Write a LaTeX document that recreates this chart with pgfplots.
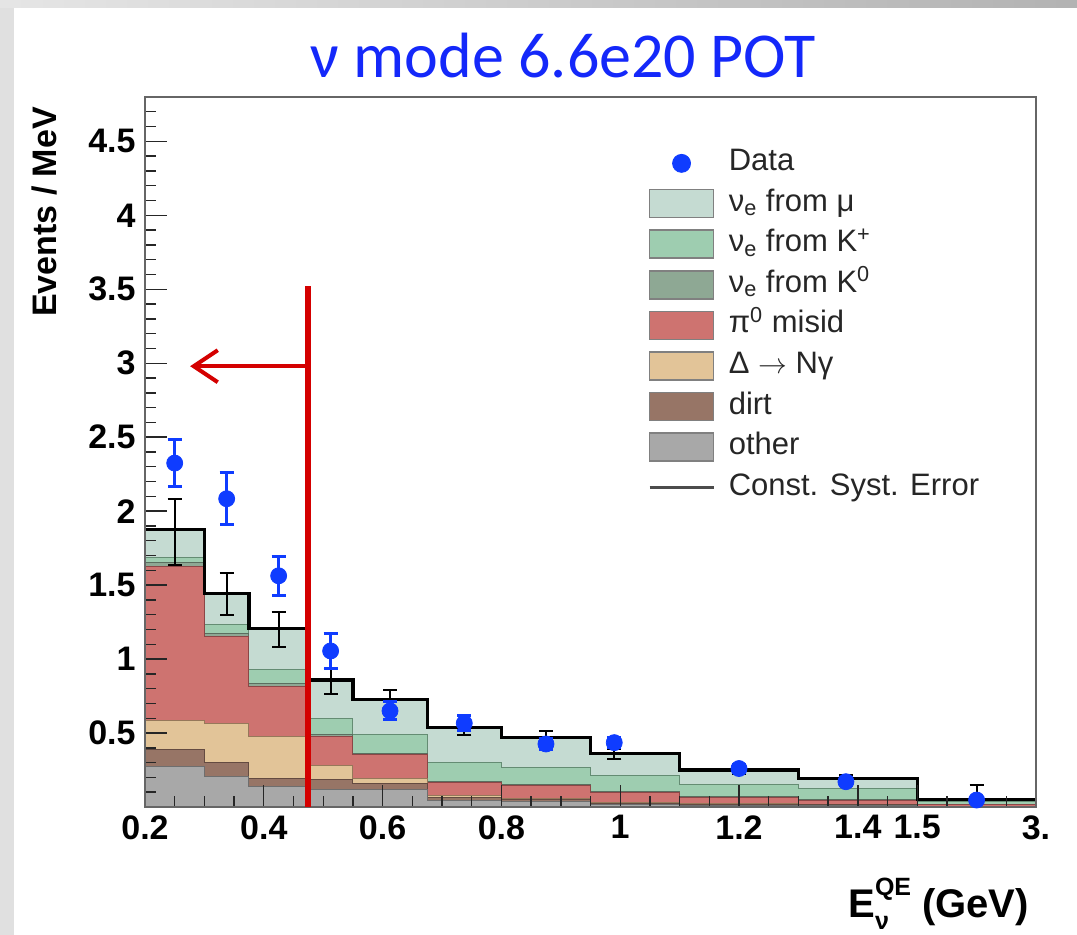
\documentclass[border=0pt]{standalone}
\usepackage{pgfplots}
\pgfplotsset{compat=1.18}
\usepackage{pgfplotstable}
\usepackage{fontspec}
\setmainfont{Liberation Sans}
\newfontfamily\titlefont{Carlito}
\usetikzlibrary{arrows.meta}

\definecolor{cmu}{RGB}{197,219,210}
\definecolor{dmu}{RGB}{120,142,132}
\definecolor{ckp}{RGB}{158,205,176}
\definecolor{dkp}{RGB}{100,140,115}
\definecolor{ckz}{RGB}{142,168,148}
\definecolor{dkz}{RGB}{90,110,95}
\definecolor{cpi}{RGB}{206,115,112}
\definecolor{dpi}{RGB}{140,70,70}
\definecolor{cdel}{RGB}{226,196,152}
\definecolor{ddel}{RGB}{150,120,90}
\definecolor{cdirt}{RGB}{151,117,102}
\definecolor{ddirt}{RGB}{100,75,65}
\definecolor{coth}{RGB}{168,168,168}
\definecolor{doth}{RGB}{110,110,110}
\definecolor{datablue}{RGB}{15,60,255}
\definecolor{titleblue}{RGB}{20,40,250}
\definecolor{redann}{RGB}{212,0,0}

\pgfplotstableread{
x     l1    l2    l3    l4    l5    l6    l7
0.2   0.273 0.39  0.587 1.625 1.65  1.69  1.874
0.3   0.205 0.30  0.566 1.152 1.175 1.231 1.441
0.375 0.14  0.194 0.476 0.813 0.836 0.927 1.208
0.475 0.12  0.183 0.28  0.476 0.49  0.599 0.859
0.55  0.115 0.16  0.193 0.352 0.363 0.487 0.724
0.675 0.045 0.065 0.08  0.165 0.175 0.30  0.54
0.8   0.035 0.05  0.06  0.145 0.15  0.265 0.47
0.95  0.018 0.025 0.03  0.10  0.104 0.216 0.36
1.1   0.012 0.018 0.022 0.065 0.07  0.149 0.25
1.3   0.01  0.014 0.017 0.045 0.05  0.125 0.195
1.5   0.003 0.004 0.006 0.015 0.02  0.035 0.05
1.7   0.003 0.004 0.006 0.015 0.02  0.035 0.05
}\hist

\pgfplotstableread{
x      y     e
0.25   2.325 0.16
0.3375 2.084 0.175
0.425  1.563 0.13
0.5125 1.055 0.12
0.6125 0.65  0.06
0.7375 0.566 0.05
0.875  0.426 0.04
0.99   0.435 0.035
1.2    0.26  0.03
1.38   0.171 0.025
1.6    0.047 0.02
}\data

\pgfplotstableread{
x      y     e
0.25   1.86  0.225
0.3375 1.44  0.14
0.425  1.20  0.12
0.5125 0.85  0.085
0.6125 0.72  0.07
0.7375 0.54  0.05
0.875  0.47  0.045
0.99   0.36  0.035
1.2    0.25  0.025
1.38   0.195 0.02
1.6    0.05  0.1
}\mcerr

\pgfplotsset{
  layer/.style={const plot, line width=0.5pt,
    legend image code/.code={\draw[##1, line width=0.8pt, draw=black!50] (0pt,-7pt) rectangle (32pt,7pt);}},
}

\begin{document}
\begin{tikzpicture}
\useasboundingbox (0,0) rectangle (538.5pt,467.5pt);
\fill[white] (0,0) rectangle (538.5pt,467.5pt);
\fill[black!12] (0,0) rectangle (7pt,467.5pt);
\shade[left color=black!10, right color=black!30] (0,463.5pt) rectangle (538.5pt,467.5pt);

\begin{axis}[
  at={(72.5pt,64pt)}, anchor=south west,
  scale only axis, width=445.5pt, height=355pt,
  xmin=0.2, xmax=1.7, ymin=0, ymax=4.8,
  axis on top,
  xtick={0.2,0.4,0.6,0.8,1.0,1.2,1.4,1.5,1.7},
  xticklabels={0.2,0.4,0.6,0.8,1,1.2,1.4,1.5,3.},
  minor xtick={0.25,0.3,0.35,0.45,0.5,0.55,0.65,0.7,0.75,0.85,0.9,0.95,1.05,1.1,1.15,1.25,1.3,1.35,1.45,1.55,1.65},
  ytick={0.5,1,1.5,2,2.5,3,3.5,4,4.5},
  yticklabels={0.5,1,1.5,2,2.5,3,3.5,4,4.5},
  minor ytick={0.1,0.2,...,4.7},
  tick align=inside, tick pos=left,
  major tick length=11pt, minor tick length=5.5pt,
  every tick/.append style={black!85, line width=0.7pt},
  axis line style={black!60, line width=1.2pt},
  tick label style={font=\bfseries\fontsize{17}{17}\selectfont, inner sep=0pt},
  xticklabel shift=4pt, yticklabel shift=4.5pt,
  legend style={at={(0.5645,0.9275)}, anchor=north west, draw=none, fill=none,
    inner sep=0pt, row sep=5.5pt, column sep=7pt,
    font=\fontsize{15.5}{15.5}\selectfont, text=black!85,
    cells={anchor=west},
    nodes={inner sep=0pt, text height=11pt, text depth=3.5pt}},
]
\addlegendimage{legend image code/.code={\fill[datablue] (16pt,0pt) circle (4.5pt); \path[draw=none, fill=none] (0pt,-7pt) rectangle (32pt,7pt);}}
\addlegendentry{Data}

\addplot[layer, fill=cmu, draw=dmu] table[x=x,y=l7]{\hist} \closedcycle;
\addlegendentry{ν\textsubscript{e} from μ}
\addplot[layer, fill=ckp, draw=dkp] table[x=x,y=l6]{\hist} \closedcycle;
\addlegendentry{ν\textsubscript{e} from K\textsuperscript{+}}
\addplot[layer, fill=ckz, draw=dkz] table[x=x,y=l5]{\hist} \closedcycle;
\addlegendentry{ν\textsubscript{e} from K\textsuperscript{0}}
\addplot[layer, fill=cpi, draw=dpi] table[x=x,y=l4]{\hist} \closedcycle;
\addlegendentry{π\textsuperscript{0} misid}
\addplot[layer, fill=cdel, draw=ddel] table[x=x,y=l3]{\hist} \closedcycle;
\addlegendentry{Δ $\rightarrow$ Nγ}
\addplot[layer, fill=cdirt, draw=ddirt] table[x=x,y=l2]{\hist} \closedcycle;
\addlegendentry{dirt}
\addplot[layer, fill=coth, draw=doth] table[x=x,y=l1]{\hist} \closedcycle;
\addlegendentry{other}

\addlegendimage{legend image code/.code={\draw[black!70, line width=1.2pt] (0pt,0pt) -- (32pt,0pt); \path[draw=none, fill=none] (0pt,-7pt) rectangle (32pt,7pt);}}
\addlegendentry{Const. Syst. Error}

\addplot[const plot, black, line width=1.6pt, forget plot] table[x=x,y=l7]{\hist};

\addplot[forget plot, draw=none, mark=none,
  error bars/.cd, y dir=both, y explicit,
  error bar style={draw=black, line width=1pt},
  error mark options={draw=black, rotate=90, mark size=3.5pt, line width=1pt}]
  table[x=x,y=y,y error=e]{\mcerr};

\addplot[forget plot, only marks, mark=*, mark size=4pt, color=datablue,
  mark options={fill=datablue, draw=datablue},
  error bars/.cd, y dir=both, y explicit,
  error bar style={draw=datablue, line width=1.5pt},
  error mark options={draw=datablue, rotate=90, mark size=3.5pt, line width=1.5pt}]
  table[x=x,y=y,y error=e]{\data};

\coordinate (rtop) at (axis cs:0.475,3.52);
\coordinate (rbot) at (axis cs:0.475,0);
\coordinate (ar0) at (axis cs:0.475,2.98);
\coordinate (ar1) at (axis cs:0.276,2.98);
\end{axis}

\draw[redann, line width=3pt] (rbot) -- (rtop);
\draw[redann, line width=2pt, -{Straight Barb[length=12pt, width=16pt]}] (ar0) -- (ar1);

\node[anchor=base, font=\titlefont\fontsize{32}{32}\selectfont, text=titleblue] at (281.5pt,428.5pt) {ν mode 6.6e20 POT};
\node[rotate=90, font=\bfseries\fontsize{17}{17}\selectfont] at (22.5pt,361.5pt) {Events / MeV};
\node[anchor=base east, font=\bfseries\fontsize{20}{20}\selectfont] at (518pt,8.5pt)
  {E\raisebox{-0.3em}{\rlap{\fontsize{12.5}{12.5}\selectfont ν}}\raisebox{0.55em}{\fontsize{12.5}{12.5}\selectfont QE} (GeV)};
\end{tikzpicture}
\end{document}
